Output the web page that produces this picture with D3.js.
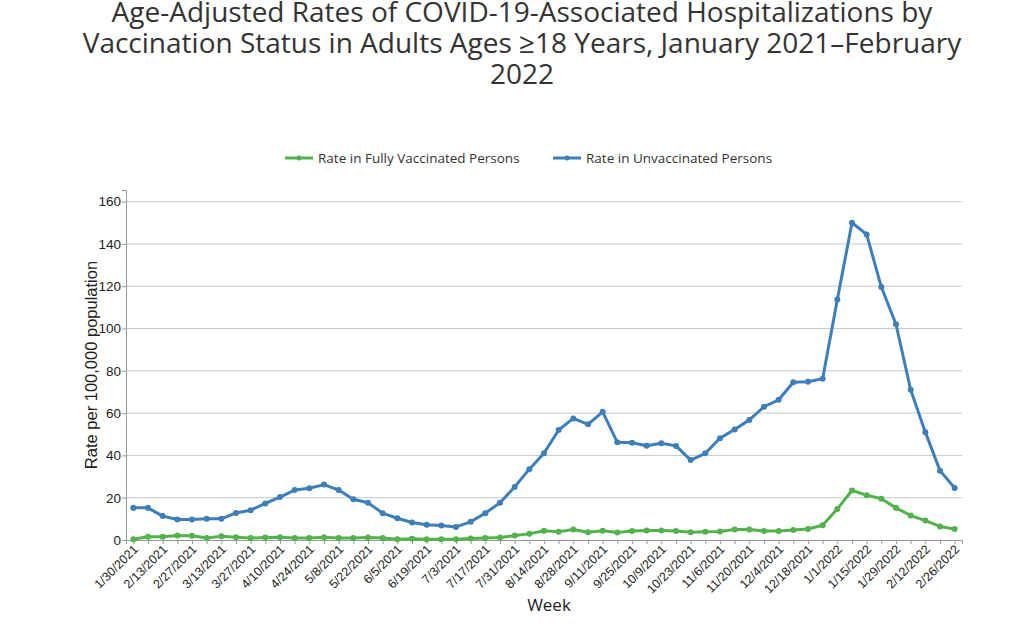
<!DOCTYPE html>
<html>
<head>
<meta charset="utf-8">
<script src="https://d3js.org/d3.v7.min.js"></script>
<style>
  body { margin: 0; background: #fff; }
  svg { display: block; }
</style>
</head>
<body>
<div id="chart"></div>
<script>
// weeks (every week), labels shown on every other week
var weeks = ["1/30/2021","2/6/2021","2/13/2021","2/20/2021","2/27/2021","3/6/2021","3/13/2021","3/20/2021","3/27/2021","4/3/2021",
  "4/10/2021","4/17/2021","4/24/2021","5/1/2021","5/8/2021","5/15/2021","5/22/2021","5/29/2021","6/5/2021","6/12/2021",
  "6/19/2021","6/26/2021","7/3/2021","7/10/2021","7/17/2021","7/24/2021","7/31/2021","8/7/2021","8/14/2021","8/21/2021",
  "8/28/2021","9/4/2021","9/11/2021","9/18/2021","9/25/2021","10/2/2021","10/9/2021","10/16/2021","10/23/2021","10/30/2021",
  "11/6/2021","11/13/2021","11/20/2021","11/27/2021","12/4/2021","12/11/2021","12/18/2021","12/25/2021","1/1/2022","1/8/2022",
  "1/15/2022","1/22/2022","1/29/2022","2/5/2022","2/12/2022","2/19/2022","2/26/2022"];

var vaccinated = [0.4,1.5,1.5,2.1,2.0,0.9,1.8,1.3,0.9,1.2,
  1.3,0.9,1.0,1.3,0.9,0.9,1.2,0.9,0.4,0.6,
  0.4,0.4,0.4,0.7,0.9,1.2,2.1,2.9,4.4,3.9,
  5.0,3.7,4.4,3.6,4.2,4.5,4.5,4.2,3.7,3.9,
  4.0,5.0,5.0,4.2,4.2,4.7,5.2,7.0,14.7,23.4,
  21.2,19.5,15.2,11.6,9.2,6.4,5.2];

var unvaccinated = [15.2,15.2,11.3,9.7,9.7,10.0,10.0,12.8,14.1,17.3,
  20.3,23.6,24.5,26.2,23.6,19.3,17.6,12.7,10.3,8.3,
  7.2,6.9,6.2,8.6,12.7,17.6,25.1,33.5,41.0,52.0,
  57.5,54.7,60.6,46.2,46.0,44.6,45.7,44.5,37.8,41.0,
  48.1,52.3,56.8,63.0,66.3,74.6,74.8,76.3,113.7,150.0,
  144.5,119.6,102.0,71.0,51.0,32.8,24.6];

var yTicks = [0,20,40,60,80,100,120,140,160];

var seriesNames = ["Rate in Fully Vaccinated Persons", "Rate in Unvaccinated Persons"];
var seriesColors = ["#4fb548", "#3a7fbf"];

var svgWidth = 1023;
var svgHeight = 627;
var margin = { top: 190, right: 61, bottom: 87, left: 126 };
var width = svgWidth - margin.left - margin.right;
var height = svgHeight - margin.top - margin.bottom;

var svg = d3.select("#chart")
  .append("svg")
  .attr("width", svgWidth)
  .attr("height", svgHeight);

// title
var titleLines = ["Age-Adjusted Rates of COVID-19-Associated Hospitalizations by",
  "Vaccination Status in Adults Ages \u226518 Years, January 2021\u2013February",
  "2022"];
svg.append("text")
  .attr("x", 522)
  .attr("y", 22)
  .attr("text-anchor", "middle")
  .style("font-family", "'Open Sans', sans-serif")
  .style("font-size", "28px")
  .style("fill", "#333")
  .selectAll("tspan")
  .data(titleLines)
  .enter()
  .append("tspan")
  .attr("x", 522)
  .attr("dy", (d, i) => i == 0 ? 0 : 31)
  .text(d => d);

// legend
var legend = svg.append("g");
var legendX = [285, 553];
seriesNames.forEach(function(name, i) {
  var g = legend.append("g").attr("transform", `translate(${legendX[i]}, 158)`);
  g.append("line")
    .attr("x1", 0).attr("x2", 28)
    .attr("stroke", seriesColors[i])
    .attr("stroke-width", 3);
  g.append("circle")
    .attr("cx", 14).attr("r", 2.5)
    .attr("fill", seriesColors[i]);
  g.append("text")
    .attr("x", 33)
    .attr("dy", "0.35em")
    .style("font-family", "'Open Sans', sans-serif")
    .style("font-size", "13.5px")
    .style("fill", "#333")
    .text(name);
});

var chartGroup = svg.append("g")
  .attr("transform", `translate(${margin.left}, ${margin.top})`);

var xScale = d3.scalePoint()
  .domain(weeks)
  .range([0, width])
  .padding(0.5);

var yScale = d3.scaleLinear()
  .domain([0, 165.5])
  .range([height, 0]);

// gridlines
chartGroup.append("g")
  .selectAll("line")
  .data(yTicks.filter(d => d > 0))
  .enter()
  .append("line")
  .attr("x1", 0)
  .attr("x2", width)
  .attr("y1", d => yScale(d))
  .attr("y2", d => yScale(d))
  .attr("stroke", "#c8c8c8")
  .attr("stroke-width", 1);

// y axis
var yAxis = d3.axisLeft(yScale).tickValues(yTicks).tickSize(4).tickSizeOuter(4);
var yg = chartGroup.append("g").call(yAxis);
yg.select(".domain").attr("stroke", "#999");
yg.selectAll(".tick line").attr("stroke", "#999");
yg.selectAll(".tick text")
  .style("font-family", "'Liberation Sans', Arial, sans-serif")
  .style("font-size", "13.5px")
  .style("fill", "#222")
  .attr("x", -5);

// x axis
var xAxis = d3.axisBottom(xScale).tickSize(4).tickSizeOuter(4)
  .tickFormat((d, i) => i % 2 == 0 ? d : "");
var xg = chartGroup.append("g")
  .attr("transform", `translate(0, ${height})`)
  .call(xAxis);
xg.select(".domain").attr("stroke", "#999");
xg.selectAll(".tick line").attr("stroke", "#999");
xg.selectAll(".tick text")
  .style("font-family", "'Liberation Sans', Arial, sans-serif")
  .style("font-size", "12.5px")
  .style("fill", "#222")
  .attr("text-anchor", "end")
  .attr("x", 0)
  .attr("y", 0)
  .attr("dy", "0")
  .attr("transform", "translate(5, 10) rotate(-45)");

// axis titles
svg.append("text")
  .attr("transform", "translate(97, 365) rotate(-90)")
  .attr("text-anchor", "middle")
  .style("font-family", "'Liberation Sans', Arial, sans-serif")
  .style("font-size", "16.5px")
  .style("fill", "#222")
  .text("Rate per 100,000 population");

svg.append("text")
  .attr("x", 549)
  .attr("y", 611)
  .attr("text-anchor", "middle")
  .style("font-family", "'Open Sans', sans-serif")
  .style("font-size", "17px")
  .style("fill", "#222")
  .text("Week");

// lines
var allSeries = [vaccinated, unvaccinated];
var line = d3.line()
  .x((d, i) => xScale(weeks[i]))
  .y(d => yScale(d));

allSeries.forEach(function(values, s) {
  chartGroup.append("path")
    .datum(values)
    .attr("d", line)
    .attr("fill", "none")
    .attr("stroke", seriesColors[s])
    .attr("stroke-width", 3)
    .attr("stroke-linejoin", "round");

  chartGroup.append("g")
    .selectAll("circle")
    .data(values)
    .enter()
    .append("circle")
    .attr("cx", (d, i) => xScale(weeks[i]))
    .attr("cy", d => yScale(d))
    .attr("r", 3)
    .attr("fill", seriesColors[s]);
});
</script>
</body>
</html>
